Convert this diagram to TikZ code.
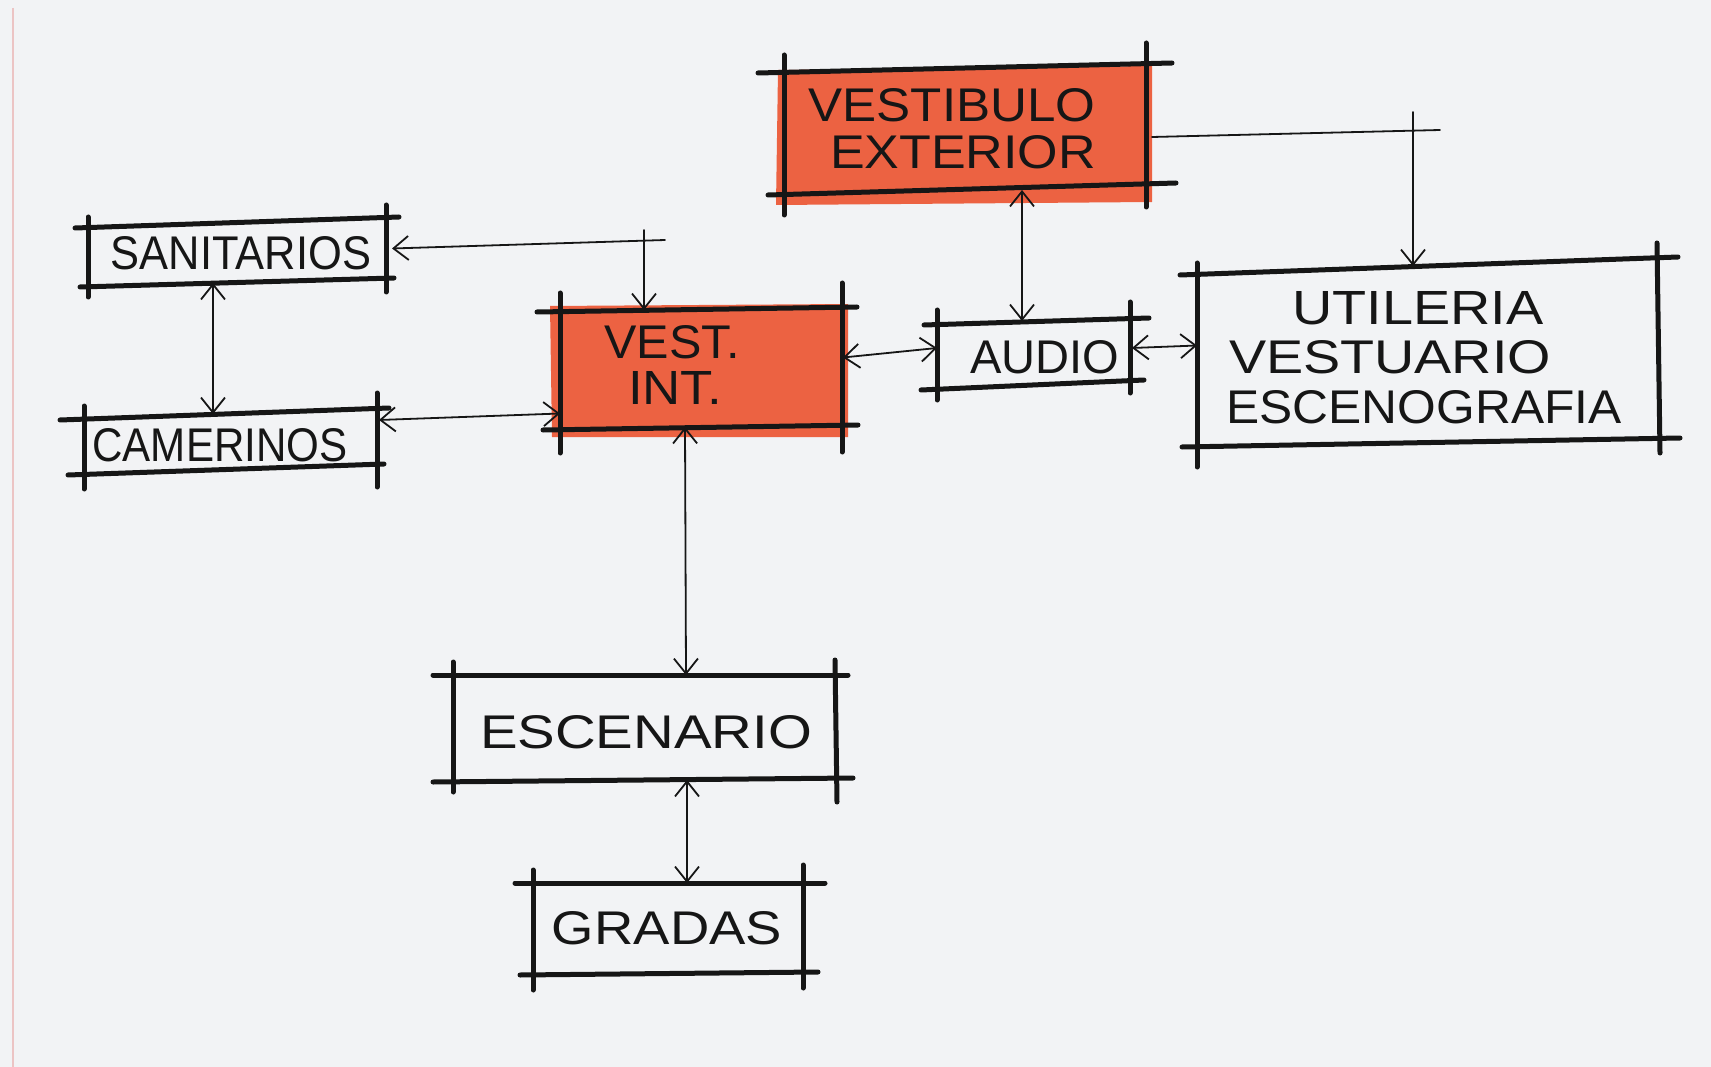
\documentclass[tikz,border=0pt]{standalone}
\usepackage{fontspec}
\usepackage{graphicx}
\setmainfont{Liberation Sans}
\usetikzlibrary{arrows.meta,calc}
\definecolor{paper}{RGB}{242,243,245}
\definecolor{inkc}{RGB}{22,22,22}
\definecolor{marker}{RGB}{236,98,66}
\definecolor{edgepink}{RGB}{236,196,196}
\newcommand{\handtxt}[2]{\resizebox{#1}{33pt}{#2}}
\begin{document}
\begin{tikzpicture}[x=1pt,y=-1pt,
  stroke/.style={line width=5pt,draw=inkc,line cap=round},
  link/.style={line width=1.8pt,draw=inkc,line cap=round},
  >={Straight Barb[length=15pt,width=24pt]},
  boxnode/.style={rectangle,draw=none,inner sep=0pt,outer sep=0pt},
  lbl/.style={inner sep=0pt,outer sep=0pt,text=inkc,font=\fontsize{46}{50}\selectfont}]
\useasboundingbox (0,0) rectangle (1711,1067);
\fill[paper] (0,0) rectangle (1711,1067);
\draw[edgepink,line width=2pt] (13,8) -- (13,1067);

% box nodes
\node[boxnode,minimum width=362pt,minimum height=120pt] (ve) at (965,130) {};
\node[boxnode,minimum width=282pt,minimum height=117pt] (vi) at (701,368.5) {};
\node[boxnode,minimum width=298pt,minimum height=61pt] (san) at (237,252.5) {};
\node[boxnode,minimum width=293pt,minimum height=56pt] (cam) at (230.5,442) {};
\node[boxnode,minimum width=193pt,minimum height=64pt] (aud) at (1033.5,353) {};
\node[boxnode,minimum width=460pt,minimum height=177pt] (uti) at (1427,354.5) {};
\node[boxnode,minimum width=382pt,minimum height=105pt] (esc) at (644,727.5) {};
\node[boxnode,minimum width=270pt,minimum height=90pt] (gra) at (668,928) {};

% marker fills
\fill[marker] (778,70) -- (1152,66) -- (1152,202) -- (776,205) -- cycle;
\fill[marker] (550,306) -- (848,304) -- (848,437) -- (552,437) -- cycle;

% box strokes
% vestibulo exterior
\draw[stroke] (758,73) -- (1172,63);
\draw[stroke] (768,195) -- (1176,183);
\draw[stroke] (784,55) -- (784,215);
\draw[stroke] (1146,43) -- (1146,207);
% vest. int.
\draw[stroke] (537,312) -- (857,307);
\draw[stroke] (543,430) -- (858,425);
\draw[stroke] (560,293) -- (560,453);
\draw[stroke] (842,283) -- (842,452);
% sanitarios
\draw[stroke] (75,228) -- (399,217);
\draw[stroke] (80,287) -- (394,278);
\draw[stroke] (88,217) -- (88,297);
\draw[stroke] (386,205) -- (386,292);
% camerinos
\draw[stroke] (60,420) -- (389,408);
\draw[stroke] (68,475) -- (384,464);
\draw[stroke] (84,406) -- (84,489);
\draw[stroke] (377,393) -- (377,487);
% audio
\draw[stroke] (924,325) -- (1149,318);
\draw[stroke] (921,390) -- (1144,380);
\draw[stroke] (937,310) -- (937,400);
\draw[stroke] (1130,302) -- (1130,393);
% utileria
\draw[stroke] (1180,275) -- (1678,257);
\draw[stroke] (1182,447) -- (1680,438);
\draw[stroke] (1197,263) -- (1197,467);
\draw[stroke] (1657,243) -- (1660,453);
% escenario
\draw[stroke] (433,675) -- (848,675);
\draw[stroke] (433,782) -- (853,778);
\draw[stroke] (453,662) -- (453,792);
\draw[stroke] (835,660) -- (837,802);
% gradas
\draw[stroke] (515,883) -- (825,883);
\draw[stroke] (520,975) -- (818,972);
\draw[stroke] (533,870) -- (533,990);
\draw[stroke] (803,865) -- (803,988);

% labels
\node[lbl] (tve1) at (952,105) {\handtxt{287pt}{VESTIBULO}};
\node[lbl] (tve2) at (963,152) {\handtxt{266pt}{EXTERIOR}};
\node[lbl] (tvi1) at (672,342) {\handtxt{135pt}{VEST.}};
\node[lbl] (tvi2) at (675,388) {\handtxt{94pt}{INT.}};
\node[lbl] (tsan) at (241,253) {\handtxt{260pt}{SANITARIOS}};
\node[lbl] (tcam) at (220,445) {\handtxt{255pt}{CAMERINOS}};
\node[lbl] (taud) at (1045,357) {\handtxt{149pt}{AUDIO}};
\node[lbl] (tuti1) at (1418,308) {\handtxt{251pt}{UTILERIA}};
\node[lbl] (tuti2) at (1390,357) {\handtxt{322pt}{VESTUARIO}};
\node[lbl] (tuti3) at (1424,407) {\handtxt{395pt}{ESCENOGRAFIA}};
\node[lbl] (tesc) at (646,732) {\handtxt{332pt}{ESCENARIO}};
\node[lbl] (tgra) at (667,928) {\handtxt{230pt}{GRADAS}};

% connectors
\coordinate (j1) at (644,240);
\coordinate (j2) at (1413,130);
\draw[link,<->] (san.south -| 213,0) -- (cam.north -| 213,0);
\draw[link,<-] ($(san.east)+(6,-4)$) -- ($(j1)+(21,0)$);
\draw[link,->] ($(j1)+(0,-10)$) -- (vi.north -| j1);
\draw[link,<->] ($(cam.east)+(2,-22)$) -- ($(vi.west)+(0,45)$);
\draw[link,<->] ($(vi.east)+(1,-11)$) -- ($(aud.west)+(0,-5)$);
\draw[link,<->] ($(aud.east)+(2,-5)$) -- ($(uti.west)+(0,-9)$);
\draw[link,<->] (ve.south -| 1022,0) -- (aud.north -| 1022,0);
\draw[link] ($(ve.east)+(6,7)$) -- ($(j2)+(27,0)$);
\draw[link,->] ($(j2)+(0,-18)$) -- (uti.north -| j2);
\draw[link,<->] (vi.south -| 685,0) -- (esc.north -| 686,0);
\draw[link,<->] (esc.south -| 687,0) -- (gra.north -| 687,0);
\end{tikzpicture}
\end{document}
